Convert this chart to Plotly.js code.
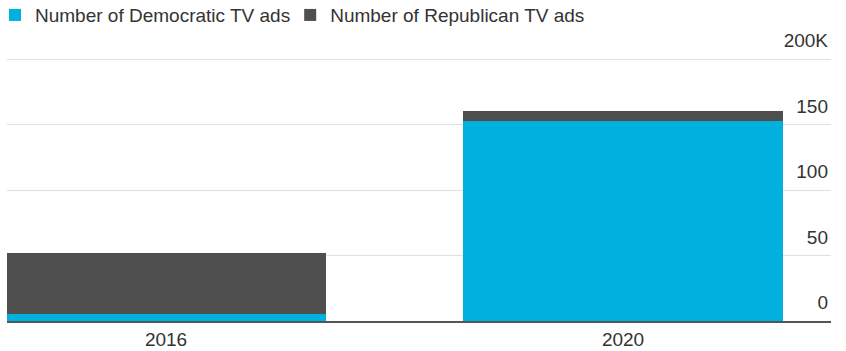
<!DOCTYPE html>
<html>
<head>
<meta charset="utf-8">
<script src="https://cdn.plot.ly/plotly-3.0.1.min.js"></script>
<style>html,body{margin:0;padding:0;background:#fff;}#chart{width:846px;height:351px;}</style>
</head>
<body>
<div id="chart"></div>
<script>
const years = ['2016', '2020'];
const democraticAds = [5300, 153000];
const republicanAds = [46400, 7600];
const yTickVals = [0, 50000, 100000, 150000, 200000];
const yTickText = ['0', '50', '100', '150', '200K'];

const data = [
  {type: 'bar', name: 'Number of Democratic TV ads', x: years, y: democraticAds,
   marker: {color: '#00b1e0', line: {width: 0}}, width: 0.70, hoverinfo: 'skip'},
  {type: 'bar', name: 'Number of Republican TV ads', x: years, y: republicanAds,
   marker: {color: '#4f4f4f', line: {width: 0}}, width: 0.70, hoverinfo: 'skip'}
];

const layout = {
  width: 846, height: 351,
  margin: {l: 7, r: 15, t: 34, b: 30},
  barmode: 'stack',
  paper_bgcolor: '#fff', plot_bgcolor: '#fff',
  font: {family: 'Liberation Sans, Arial, sans-serif', size: 19, color: '#333'},
  showlegend: true,
  legend: {orientation: 'h', xref: 'container', yref: 'container', x: 0, y: 0.957,
           xanchor: 'left', yanchor: 'middle', indentation: -5, font: {size: 19, color: '#333'},
           traceorder: 'normal', itemclick: false},
  xaxis: {type: 'category', range: [-0.348, 1.455], showgrid: false, zeroline: false,
          showline: true, linecolor: '#555', linewidth: 2, ticks: '',
          tickfont: {size: 19, color: '#333'}, fixedrange: true},
  yaxis: {side: 'right', range: [0, 219084], tickvals: yTickVals, ticktext: yTickText,
          ticklabelposition: 'inside top', ticklabelshift: -5, ticklabeloverflow: 'allow',
          showgrid: true, gridcolor: '#e0e0e0', gridwidth: 1,
          zeroline: false, showline: false, ticks: '',
          tickfont: {size: 19, color: '#333'}, fixedrange: true}
};

Plotly.newPlot('chart', data, layout, {displayModeBar: false, staticPlot: true});
</script>
</body>
</html>
